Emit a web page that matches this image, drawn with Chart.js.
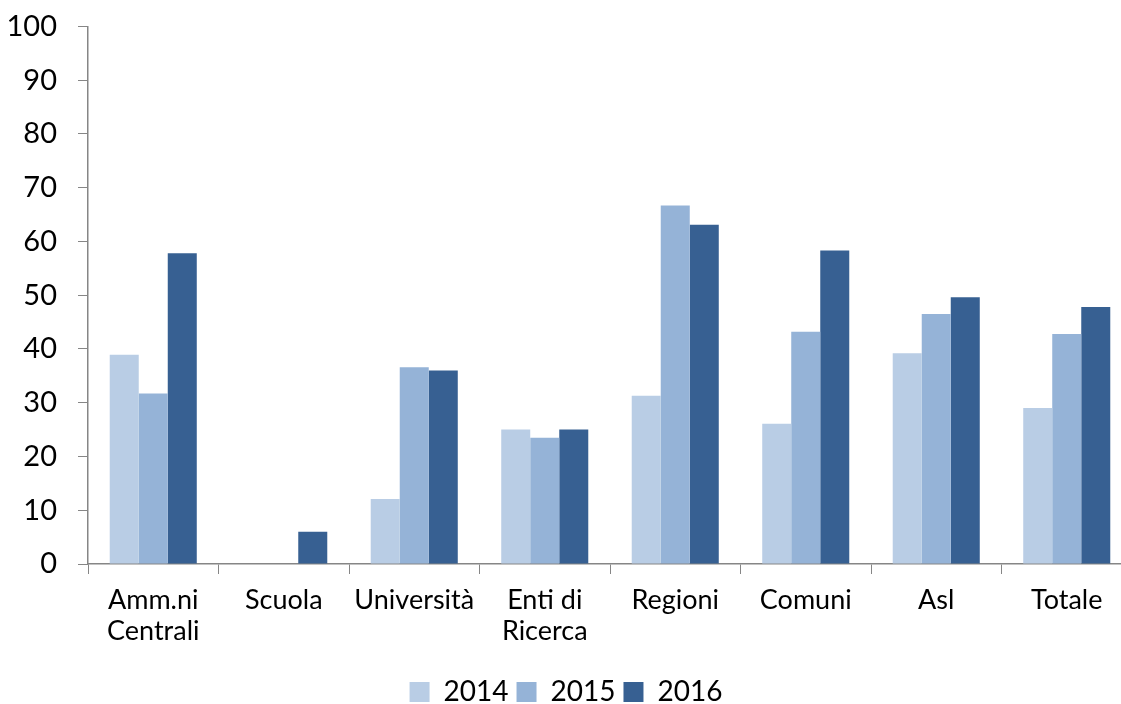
<!DOCTYPE html>
<html>
<head>
<meta charset="utf-8">
<script src="https://cdn.jsdelivr.net/npm/chart.js@4"></script>
<style>
  html, body { margin: 0; padding: 0; background: #fff; overflow: hidden; }
  #wrap { position: absolute; left: 0; top: -12px; width: 1150px; height: 728px; }
</style>
</head>
<body>
<div id="wrap"><canvas id="bars"></canvas></div>
<script>
// categories and series
const categories = [['Amm.ni', 'Centrali'], 'Scuola', 'Università', ['Enti di', 'Ricerca'], 'Regioni', 'Comuni', 'Asl', 'Totale'];
const years      = ['2014', '2015', '2016'];
const val2014    = [38.9, null, 12.1, 25.0, 31.3, 26.1, 39.2, 29.0];
const val2015    = [31.7, null, 36.6, 23.5, 66.7, 43.2, 46.5, 42.8];
const val2016    = [57.8, 6.0, 36.0, 25.0, 63.1, 58.3, 49.6, 47.8];
const yTicks     = [0, 10, 20, 30, 40, 50, 60, 70, 80, 90, 100];

//color
const light    = '#B9CDE5';
const mid      = '#95B3D7';
const dark     = '#376092';
const axisGray = '#868686';
const fontName = 'Lato';

const series = [val2014, val2015, val2016];
const colors = [light, mid, dark];

var ctx = document.getElementById('bars').getContext('2d');
new Chart(ctx, {
    type: 'bar',
    data: {
        labels: categories,
        datasets: years.map((y, i) => ({
            label: y,
            data: series[i],
            backgroundColor: colors[i],
            borderWidth: 0,
            categoryPercentage: 0.667,
            barPercentage: 1.0
        }))
    },
    options: {
        responsive: true,
        maintainAspectRatio: false,
        animation: false,
        layout: { padding: { top: 9, right: 18, left: 0, bottom: 0 } },
        plugins: {
            legend: {
                position: 'bottom',
                labels: {
                    boxWidth: 20,
                    boxHeight: 20,
                    padding: 8,
                    color: '#000',
                    font: { size: 28, family: fontName }
                }
            },
            tooltip: { enabled: false }
        },
        scales: {
            x: {
                afterFit: (s) => { s.height = 106; },
                grid: {
                    offset: true,
                    drawOnChartArea: false,
                    drawTicks: true,
                    tickLength: 10,
                    color: axisGray
                },
                border: { color: axisGray, width: 1.5 },
                ticks: {
                    color: '#000',
                    padding: 11,
                    maxRotation: 0,
                    autoSkip: false,
                    font: { size: 27, family: fontName, lineHeight: 1.15 }
                }
            },
            y: {
                min: 0,
                max: 100,
                afterBuildTicks: (s) => { s.ticks = yTicks.map(v => ({ value: v })); },
                afterFit: (s) => { s.width = 88; },
                grid: {
                    drawOnChartArea: false,
                    drawTicks: true,
                    tickLength: 10,
                    color: axisGray
                },
                border: { color: axisGray, width: 1.5 },
                ticks: {
                    color: '#000',
                    padding: 21,
                    font: { size: 29, family: fontName }
                }
            }
        }
    }
});
</script>
</body>
</html>
